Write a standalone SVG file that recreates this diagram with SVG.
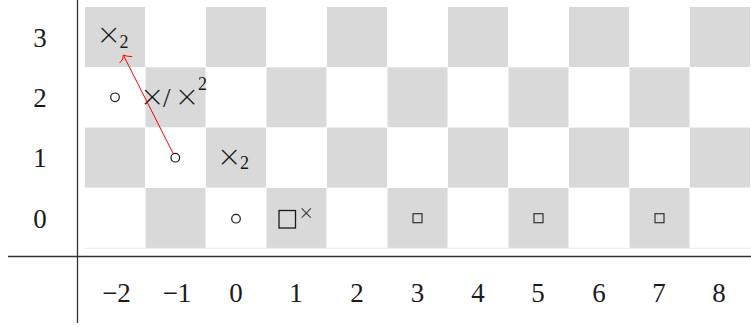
<svg xmlns="http://www.w3.org/2000/svg" width="751" height="327" viewBox="0 0 751 327">
<style>
.g{fill:#d9d9d9}
.t{font-family:"Liberation Serif","Times New Roman",serif;font-size:27px;fill:#1a1a1a}
.s{font-family:"Liberation Serif","Times New Roman",serif;font-size:18px}
.m{font-family:Lato,"Liberation Sans",sans-serif;font-weight:300;font-size:36px}
.x{font-family:Lato,"Liberation Sans",sans-serif;font-weight:300;font-size:23px}
.f{fill:#1a1a1a}
.c{fill:none;stroke:#1a1a1a;stroke-width:1.2}
.ax{stroke:#333;stroke-width:1.3;fill:none}
</style>
<rect x="0" y="0" width="751" height="327" fill="#ffffff"/>
<g id="board">
<rect class="g" x="85" y="7" width="60" height="60"/>
<rect class="g" x="206" y="7" width="60" height="60"/>
<rect class="g" x="327" y="7" width="60" height="60"/>
<rect class="g" x="448" y="7" width="60" height="60"/>
<rect class="g" x="569" y="7" width="60" height="60"/>
<rect class="g" x="690" y="7" width="60" height="60"/>
<rect class="g" x="145.5" y="67.3" width="60" height="60"/>
<rect class="g" x="266.5" y="67.3" width="60" height="60"/>
<rect class="g" x="387.5" y="67.3" width="60" height="60"/>
<rect class="g" x="508.5" y="67.3" width="60" height="60"/>
<rect class="g" x="629.5" y="67.3" width="60" height="60"/>
<rect class="g" x="85" y="127.6" width="60" height="60"/>
<rect class="g" x="206" y="127.6" width="60" height="60"/>
<rect class="g" x="327" y="127.6" width="60" height="60"/>
<rect class="g" x="448" y="127.6" width="60" height="60"/>
<rect class="g" x="569" y="127.6" width="60" height="60"/>
<rect class="g" x="690" y="127.6" width="60" height="60"/>
<rect class="g" x="145.5" y="188" width="60" height="60"/>
<rect class="g" x="266.5" y="188" width="60" height="60"/>
<rect class="g" x="387.5" y="188" width="60" height="60"/>
<rect class="g" x="508.5" y="188" width="60" height="60"/>
<rect class="g" x="629.5" y="188" width="60" height="60"/>
<line x1="85" y1="248.3" x2="751" y2="248.3" stroke="#ececec" stroke-width="1"/>
</g>
<g id="axes">
<line class="ax" x1="77.5" y1="0" x2="77.5" y2="323"/>
<line class="ax" x1="8" y1="256.5" x2="751" y2="256.5"/>
</g>
<g id="row-labels">
<text class="t" x="40" y="46.5" text-anchor="middle">3</text>
<text class="t" x="40" y="106.5" text-anchor="middle">2</text>
<text class="t" x="40" y="167" text-anchor="middle">1</text>
<text class="t" x="40" y="227.5" text-anchor="middle">0</text>
</g>
<g id="col-labels">
<text class="t" x="116.5" y="302" text-anchor="middle">−2</text>
<text class="t" x="177" y="302" text-anchor="middle">−1</text>
<text class="t" x="236" y="302" text-anchor="middle">0</text>
<text class="t" x="296" y="302" text-anchor="middle">1</text>
<text class="t" x="357" y="302" text-anchor="middle">2</text>
<text class="t" x="417.5" y="302" text-anchor="middle">3</text>
<text class="t" x="478" y="302" text-anchor="middle">4</text>
<text class="t" x="538" y="302" text-anchor="middle">5</text>
<text class="t" x="599" y="302" text-anchor="middle">6</text>
<text class="t" x="659" y="302" text-anchor="middle">7</text>
<text class="t" x="719" y="302" text-anchor="middle">8</text>
</g>
<g id="node-a">
<text class="f"><tspan class="m" x="108.7" y="47" text-anchor="middle">×</tspan><tspan class="s" x="119.5" y="47.5">2</tspan></text>
</g>
<g id="node-b">
<circle class="c" cx="115" cy="97.3" r="4.3"/>
</g>
<g id="node-c">
<text class="f"><tspan class="m" x="152.2" y="108.5" text-anchor="middle">×</tspan><tspan class="t" x="163" y="107">/</tspan><tspan class="m" x="187" y="108.5" text-anchor="middle">×</tspan><tspan class="s" x="198" y="90">2</tspan></text>
</g>
<g id="node-d">
<circle class="c" cx="175.3" cy="157.7" r="4.3"/>
</g>
<g id="node-e">
<text class="f"><tspan class="m" x="229.3" y="168.5" text-anchor="middle">×</tspan><tspan class="s" x="240" y="168.5">2</tspan></text>
</g>
<g id="node-f">
<circle class="c" cx="236" cy="218.7" r="4.3"/>
</g>
<g id="node-g">
<rect x="279" y="210.5" width="16.5" height="17.5" fill="none" stroke="#1a1a1a" stroke-width="1.3"/>
<text class="x f" x="306.2" y="220.8" text-anchor="middle">×</text>
</g>
<g id="node-h">
<rect x="413" y="213.7" width="9" height="9" fill="none" stroke="#333" stroke-width="1.2"/>
</g>
<g id="node-i">
<rect x="534" y="213.7" width="9" height="9" fill="none" stroke="#333" stroke-width="1.2"/>
</g>
<g id="node-j">
<rect x="655" y="213.7" width="9" height="9" fill="none" stroke="#333" stroke-width="1.2"/>
</g>
<g id="connectors">
<line x1="173.3" y1="153.7" x2="123.6" y2="55.6" stroke="#ff0000" stroke-width="1"/>
<path d="M132.2,56.6 Q126.5,56.6 123.3,55 Q124.2,58.8 119.6,63.1" fill="none" stroke="#ff0000" stroke-width="1"/>
</g>
</svg>
